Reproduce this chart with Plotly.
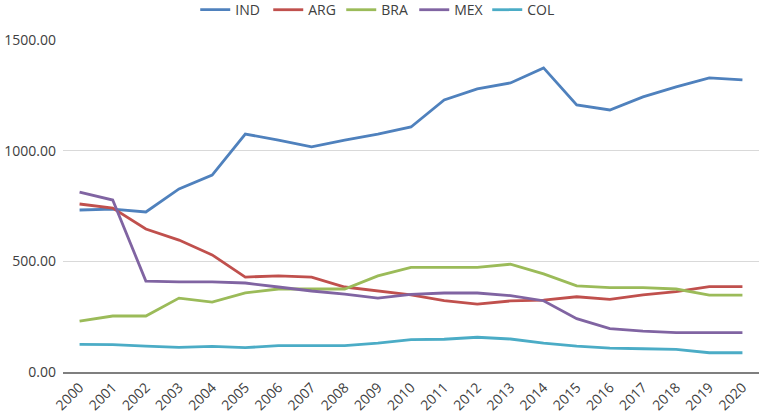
import plotly.graph_objects as go

years = [str(y) for y in range(2000, 2021)]
IND = [732, 736, 723, 827, 890, 1075, 1048, 1017, 1048, 1075, 1107, 1229, 1279, 1306, 1374, 1207, 1184, 1243, 1288, 1329, 1320]
ARG = [759, 741, 646, 596, 529, 429, 434, 429, 384, 366, 348, 322, 307, 321, 325, 340, 328, 348, 363, 386, 386]
BRA = [230, 253, 253, 334, 316, 357, 375, 375, 375, 434, 473, 473, 473, 487, 443, 389, 381, 381, 375, 347, 347]
MEX = [813, 777, 411, 407, 407, 402, 384, 366, 352, 334, 351, 357, 357, 345, 322, 241, 196, 185, 178, 178, 178]
COL = [125, 124, 117, 111, 116, 110, 119, 119, 119, 130, 146, 148, 157, 149, 130, 117, 108, 105, 102, 87, 87]

series = [("IND", IND, "#4F81BD"), ("ARG", ARG, "#C0504D"), ("BRA", BRA, "#9BBB59"),
          ("MEX", MEX, "#8064A2"), ("COL", COL, "#4BACC6")]

fig = go.Figure()
for name, vals, color in series:
    fig.add_trace(go.Scatter(x=years, y=vals, name=name, mode="lines",
                             line=dict(color=color, width=2.8)))

fig.update_layout(
    width=762, height=414,
    margin=dict(l=63, r=3, t=40, b=42, autoexpand=False),
    paper_bgcolor="white", plot_bgcolor="white",
    font=dict(family="Open Sans", size=14, color="#404040"),
    showlegend=True,
    legend=dict(orientation="h", x=0.19, xanchor="left", y=1.09, yanchor="middle",
                font=dict(size=14, color="#404040"), entrywidth=28, entrywidthmode="pixels"),
    xaxis=dict(type="category", range=[-0.5, 20.5], tickangle=-45, showgrid=False,
               showline=True, linecolor="#7F7F7F", linewidth=1.5, ticks="",
               tickfont=dict(size=14), automargin=False),
    yaxis=dict(range=[0, 1500], dtick=500, tickformat=".2f", showgrid=True,
               gridcolor="#D9D9D9", gridwidth=1, zeroline=False, showline=False,
               ticks="", tickfont=dict(size=14), automargin=False,
               ticklabelstandoff=6),
)
fig.write_html("out.html", config={"displayModeBar": False},
               post_script="document.body.style.margin='0';")
